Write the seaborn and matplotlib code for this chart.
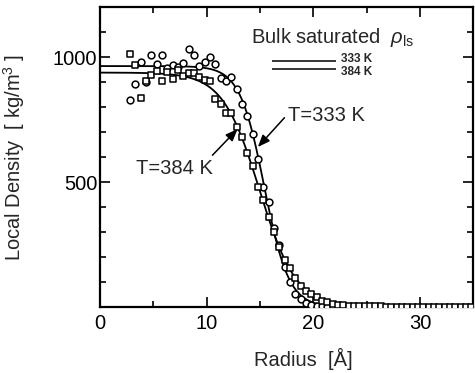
import numpy as np
import pandas as pd
import matplotlib
matplotlib.use("Agg")
import matplotlib.pyplot as plt
import seaborn as sns

# Radial density profiles of the droplet
# T = 333 K (open circles)
r_333 = [2.8, 3.3, 3.8, 4.3, 4.8, 5.3, 5.8, 6.3, 6.8, 7.3, 7.8, 8.3, 8.8, 9.3,
         9.8, 10.3, 10.8, 11.3, 11.8, 12.3, 12.8, 13.3, 13.8, 14.3, 14.8, 15.3,
         15.8, 16.3, 16.8, 17.3, 17.8, 18.3, 18.8, 19.3, 19.8, 20.3, 20.8, 21.3, 21.8]
rho_333 = [828, 891, 981, 901, 1008, 971, 1008, 955, 968, 960, 975, 1031, 1008, 965,
           979, 999, 971, 915, 905, 921, 871, 812, 764, 692, 591, 481,
           421, 315, 248, 160, 99, 53, 32, 15, 8, 4, 2, 1, 0]

# T = 384 K (open squares)
r_384 = [2.8, 3.3, 3.8, 4.3, 4.8, 5.3, 5.8, 6.3, 6.8, 7.3, 7.8, 8.3, 8.8, 9.3,
         9.8, 10.3, 10.8, 11.3, 11.8, 12.3, 12.8, 13.3, 13.8, 14.3, 14.8, 15.3,
         15.8, 16.3, 16.8, 17.3, 17.8, 18.3, 18.8, 19.3, 19.8, 20.3, 20.8, 21.3,
         21.8, 22.3, 22.8, 23.3, 23.8, 24.3, 24.8, 25.3, 25.8, 26.3, 26.8, 27.3,
         27.8, 28.3, 28.8, 29.3, 29.8, 30.3, 30.8, 31.3, 31.8, 32.3, 32.8, 33.3,
         33.8, 34.3, 34.8]
rho_384 = [1012, 968, 836, 905, 930, 945, 904, 940, 911, 948, 925, 935, 935, 921,
           908, 905, 831, 812, 777, 777, 721, 679, 617, 564, 479, 428,
           361, 301, 241, 188, 157, 117, 84, 63, 50, 38, 25, 18,
           12, 9, 7, 5, 4, 3, 3, 2, 2, 2, 1, 1,
           1, 1, 1, 1, 1, 1, 1, 1, 1, 1, 1, 1,
           1, 1, 1]

# bulk saturated liquid density of water
bulk_labels = ["333 K", "384 K"]
bulk_rho = [983, 951]


def fit_tanh(r, rho):
    # plain grid search for rho_l/2 * (1 - tanh((r - r0)/w))
    r = np.asarray(r, float)
    rho = np.asarray(rho, float)
    rl = np.linspace(900, 1000, 51)[:, None, None, None]
    r0 = np.linspace(13, 18, 101)[None, :, None, None]
    w = np.linspace(1.0, 4.0, 61)[None, None, :, None]
    pred = rl / 2 * (1 - np.tanh((r - r0) / w))
    err = ((pred - rho) ** 2).sum(axis=-1)
    i, j, k = np.unravel_index(err.argmin(), err.shape)
    return rl.ravel()[i], r0.ravel()[j], w.ravel()[k]


sns.set_theme(style="ticks")
plt.rcParams["font.family"] = ["Liberation Sans", "DejaVu Sans"]
plt.rcParams["mathtext.fontset"] = "custom"
plt.rcParams["mathtext.rm"] = "Liberation Sans"
plt.rcParams["mathtext.it"] = "Liberation Sans:italic"
plt.rcParams["xtick.direction"] = "in"
plt.rcParams["ytick.direction"] = "in"

FS = 14.5

fig = plt.figure(figsize=(4.75, 3.73), dpi=100)
ax = fig.add_axes([0.2105, 0.177, 0.786, 0.804])

r_fine = np.linspace(0, 35, 400)
for r, rho in [(r_333, rho_333), (r_384, rho_384)]:
    rl, r0, w = fit_tanh(r, rho)
    fit = pd.DataFrame({"r": r_fine, "rho": rl / 2 * (1 - np.tanh((r_fine - r0) / w))})
    sns.lineplot(data=fit, x="r", y="rho", color="black", lw=1.3, ax=ax)

sns.scatterplot(x=r_333, y=rho_333, marker="o", s=24, facecolor="white",
                edgecolor="black", linewidth=1.1, ax=ax, zorder=3)
sns.scatterplot(x=r_384, y=rho_384, marker="s", s=22, facecolor="white",
                edgecolor="black", linewidth=1.1, ax=ax, zorder=3)

# bulk saturated reference marks
ax.text(14.2, 1078, r"Bulk saturated  $\it{\rho}_{\rm ls}$", fontsize=FS, va="center")
for lab, val, dy in zip(bulk_labels, bulk_rho, [2, -2]):
    ax.hlines(val, 16.1, 22.1, color="black", lw=1.1)
    ax.annotate(lab, xy=(22.6, val), xytext=(0, dy), textcoords="offset points",
                fontsize=8.5, va="center", fontweight="bold",
                family=["Liberation Sans Narrow", "Liberation Sans"])

arrow = dict(arrowstyle="-|>,head_length=0.5,head_width=0.2", color="black",
             lw=1.1, shrinkA=0, shrinkB=0)
ax.annotate("T=333 K", xy=(14.8, 640), xytext=(17.6, 768), fontsize=FS,
            va="center", arrowprops=dict(arrow, relpos=(0, 0.55)))
ax.annotate("T=384 K", xy=(12.9, 712), xytext=(3.4, 556), fontsize=FS,
            va="center", arrowprops=dict(arrow, relpos=(0.95, 1.0)))

ax.set_xlim(0, 35)
ax.set_ylim(0, 1200)
ax.set_xticks([0, 10, 20, 30])
ax.set_xticks([5, 15, 25, 35], minor=True)
ax.set_yticks([500, 1000])
ax.set_yticks([100, 200, 300, 400, 600, 700, 800, 900, 1100, 1200], minor=True)
ax.tick_params(which="both", top=True, right=True, width=1.2, labelsize=FS,
               colors="black")
ax.tick_params(which="major", length=7)
ax.tick_params(which="minor", length=4)
ax.tick_params(axis="y", pad=2)
ax.tick_params(axis="x", pad=5)
for s in ax.spines.values():
    s.set_linewidth(1.6)
    s.set_color("black")

ax.set_xlabel("Radius  [Å]", fontsize=FS)
ax.set_ylabel("Local Density  [ kg/m$^3$ ]", fontsize=FS)
ax.xaxis.set_label_coords(0.544, -0.135)
ax.yaxis.set_label_coords(-0.195, 0.5)

fig.savefig("out.png", dpi=100)
